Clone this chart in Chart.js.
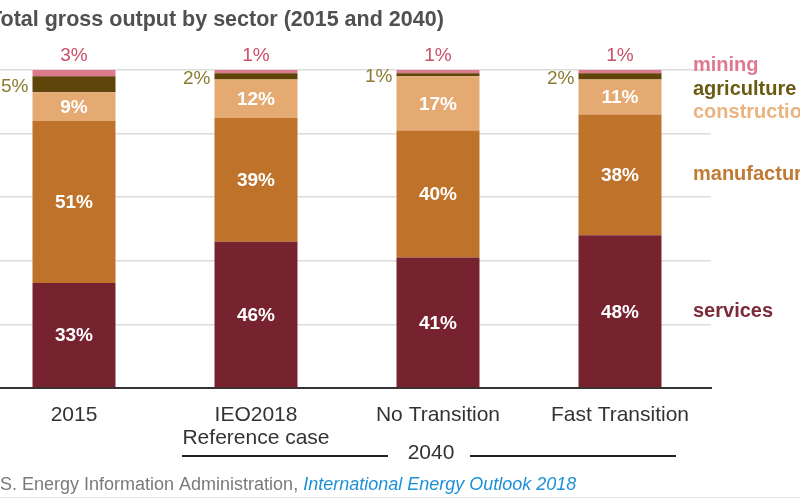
<!DOCTYPE html>
<html>
<head>
<meta charset="utf-8">
<script src="https://cdn.jsdelivr.net/npm/chart.js@4/dist/chart.umd.min.js"></script>
<style>
  html, body { margin: 0; padding: 0; background: #fff; overflow: hidden; }
  #wrap { position: absolute; left: -17px; top: 0; width: 817px; height: 500px; }
</style>
</head>
<body>
<div id="wrap"><canvas id="chart" width="817" height="500"></canvas></div>
<script>
// podaci (udio u ukupnoj bruto proizvodnji, %)
const categories = ['2015', ['IEO2018', 'Reference case'], 'No Transition', 'Fast Transition'];
const sectors = ['services', 'manufacturing', 'construction', 'agriculture', 'mining'];
const services = [33, 46, 41, 48];
const manufacturing = [51, 39, 40, 38];
const construction = [9, 12, 17, 11];
const agriculture = [5, 2, 1, 2];
const mining = [3, 1, 1, 1];
const yMax = 100;
const yStep = 20;

// boje
const barColors = ['#77222f', '#bf722a', '#e5a972', '#5f4509', '#da7a8c'];
const legendColors = ['#7b2a38', '#c07a33', '#eab37f', '#6a5a12', '#e07890'];

const FONT = "'Liberation Sans', Arial, sans-serif";
const OFF = 17; // canvas je pomaknut ulijevo

const values = [services, manufacturing, construction, agriculture, mining];

// natpisi na stupcima
const barLabels = {
  id: 'barLabels',
  afterDatasetsDraw(chart) {
    const ctx = chart.ctx;
    const top = chart.chartArea.top;
    ctx.save();
    values.forEach((arr, di) => {
      const meta = chart.getDatasetMeta(di);
      meta.data.forEach((bar, i) => {
        const txt = arr[i] + '%';
        const yTop = Math.max(bar.y, top);
        const mid = (yTop + bar.base) / 2;
        if (di <= 2) {
          ctx.font = 'bold 19px ' + FONT;
          ctx.fillStyle = '#fff';
          ctx.textAlign = 'center';
          ctx.textBaseline = 'middle';
          ctx.fillText(txt, bar.x, mid + 1);
        } else if (di === 3) {
          ctx.font = '19px ' + FONT;
          ctx.fillStyle = '#8b7b30';
          ctx.textAlign = 'right';
          ctx.textBaseline = 'middle';
          ctx.fillText(txt, bar.x - bar.width / 2 - 4, mid + 2);
        } else {
          ctx.font = '19px ' + FONT;
          ctx.fillStyle = '#c8506a';
          ctx.textAlign = 'center';
          ctx.textBaseline = 'middle';
          ctx.fillText(txt, bar.x, yTop - 14);
        }
      });
    });
    ctx.restore();
  }
};

// naslov, legenda desno, oznaka 2040 i izvor
const extras = {
  id: 'extras',
  afterDraw(chart) {
    const ctx = chart.ctx;
    const area = chart.chartArea;
    const xs = chart.scales.x;
    const last = categories.length - 1;
    ctx.save();

    // naslov
    ctx.font = 'bold 21.5px ' + FONT;
    ctx.fillStyle = '#505050';
    ctx.textAlign = 'left';
    ctx.textBaseline = 'middle';
    ctx.fillText('Total gross output by sector (2015 and 2040)', -11 + OFF, 20);

    // legenda uz zadnji stupac
    ctx.font = 'bold 20px ' + FONT;
    const lx = 693 + OFF;
    const fixedY = { 4: area.top - 5, 3: area.top + 19, 2: area.top + 42 };
    sectors.forEach((name, di) => {
      const bar = chart.getDatasetMeta(di).data[last];
      const y = fixedY[di] !== undefined ? fixedY[di] : (bar.y + bar.base) / 2;
      ctx.fillStyle = legendColors[di];
      ctx.fillText(name, lx, y);
    });

    // 2040 grupa
    const p1 = xs.getPixelForValue(1);
    const p2 = xs.getPixelForValue(2);
    const p3 = xs.getPixelForValue(3);
    const ly = 456;
    ctx.strokeStyle = '#222';
    ctx.lineWidth = 2;
    ctx.beginPath();
    ctx.moveTo(p1 - 74, ly);
    ctx.lineTo(p2 - 50, ly);
    ctx.moveTo(p2 + 32, ly);
    ctx.lineTo(p3 + 56, ly);
    ctx.stroke();
    ctx.font = '21px ' + FONT;
    ctx.fillStyle = '#333';
    ctx.textAlign = 'center';
    ctx.fillText('2040', p2 - 7, ly - 3);

    // izvor
    ctx.textAlign = 'left';
    ctx.font = '18px ' + FONT;
    ctx.fillStyle = '#7a7a7a';
    const src = 'Source: U.S. Energy Information Administration, ';
    const sx = -18 + OFF - ctx.measureText('Source: ').width;
    ctx.fillText(src, sx, 485);
    const w = ctx.measureText(src).width;
    ctx.font = 'italic 18px ' + FONT;
    ctx.fillStyle = '#1e90d8';
    ctx.fillText('International Energy Outlook 2018', sx + w, 485);

    ctx.strokeStyle = '#e2e2e2';
    ctx.lineWidth = 1;
    ctx.beginPath();
    ctx.moveTo(0, 497.5);
    ctx.lineTo(chart.width, 497.5);
    ctx.stroke();

    ctx.restore();
  }
};

new Chart(document.getElementById('chart'), {
  type: 'bar',
  data: {
    labels: categories,
    datasets: sectors.map((name, i) => ({
      label: name,
      data: values[i],
      backgroundColor: barColors[i],
      borderWidth: 0,
      categoryPercentage: 0.456,
      barPercentage: 1
    }))
  },
  options: {
    responsive: false,
    animation: false,
    layout: { padding: { left: 0, right: 89, top: 70, bottom: 33.8 } },
    plugins: {
      legend: { display: false },
      tooltip: { enabled: false },
      title: { display: false }
    },
    scales: {
      x: {
        stacked: true,
        grid: { display: false, drawTicks: false },
        border: { display: true, color: '#333', width: 2 },
        ticks: {
          color: '#333',
          font: { family: FONT, size: 21, lineHeight: 1.1 },
          padding: 16,
          maxRotation: 0,
          autoSkip: false
        }
      },
      y: {
        stacked: true,
        min: 0,
        max: yMax,
        grid: { color: '#dcdcdc', lineWidth: 1.5, drawTicks: false },
        border: { display: false },
        ticks: { display: false, stepSize: yStep }
      }
    }
  },
  plugins: [barLabels, extras]
});
</script>
</body>
</html>
